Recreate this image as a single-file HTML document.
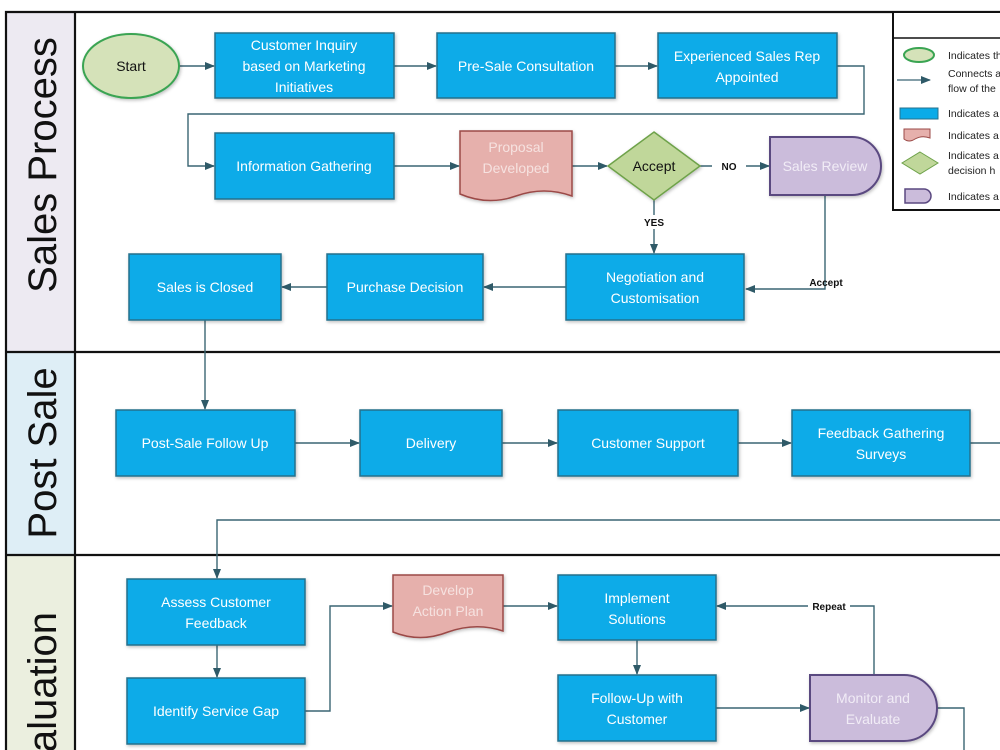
<!DOCTYPE html>
<html><head><meta charset="utf-8"><style>
html,body{margin:0;padding:0;background:#fff;width:1000px;height:750px;overflow:hidden}
svg{display:block}
text{font-family:"Liberation Sans",sans-serif}
.b{fill:#0aabe8;stroke:#26708c;stroke-width:1.5}
.t{fill:#fff;font-size:14px;text-anchor:middle}
.c{fill:none;stroke:#3a6573;stroke-width:1.4}
.lab{font-size:10px;font-weight:bold;fill:#111;text-anchor:middle}
.lg{font-size:10.5px;fill:#222}
</style></head><body>
<svg width="1000" height="750" viewBox="0 0 1000 750" xmlns="http://www.w3.org/2000/svg">
<defs>
<marker id="a" markerWidth="10" markerHeight="10" refX="9" refY="5" orient="auto" markerUnits="userSpaceOnUse" viewBox="0 0 10 10"><path d="M0,1 L10,5 L0,9 z" fill="#2f5a68"/></marker>
<filter id="s" x="-10%" y="-10%" width="125%" height="130%"><feDropShadow dx="1" dy="1.5" stdDeviation="1.5" flood-color="#000" flood-opacity="0.25"/></filter>
</defs>
<rect x="6" y="12" width="69" height="340" fill="#edeaf2"/>
<rect x="6" y="352" width="69" height="203" fill="#deeef6"/>
<rect x="6" y="555" width="69" height="195" fill="#ebefdf"/>
<path d="M6,750 V12 H1000 M75,12 V750 M6,352 H1000 M6,555 H1000" fill="none" stroke="#111" stroke-width="2.2"/>
<text transform="translate(56,165) rotate(-90)" font-size="40" text-anchor="middle" fill="#111">Sales Process</text>
<text transform="translate(56,453) rotate(-90)" font-size="40" text-anchor="middle" fill="#111">Post Sale</text>
<text transform="translate(56,612) rotate(-90)" font-size="40" text-anchor="end" fill="#111">Evaluation</text>

<g class="c" marker-end="url(#a)">
<path d="M179,66 H214"/>
<path d="M394,66 H436"/>
<path d="M615,66 H657"/>
<path d="M837,66 H864 V114 H188 V166 H214"/>
<path d="M394,166 H459"/>
<path d="M572,166 H607"/>
<path d="M700,166 H769"/>
<path d="M654,200 V253"/>
<path d="M825,195 V289 H746"/>
<path d="M566,287 H484"/>
<path d="M327,287 H282"/>
<path d="M205,320 V409"/>
<path d="M295,443 H359"/>
<path d="M502,443 H557"/>
<path d="M738,443 H791"/>
<path d="M1000,520 H217 V578"/>
<path d="M217,645 V677"/>
<path d="M305,711 H330 V606 H392"/>
<path d="M503,606 H557"/>
<path d="M637,640 V674"/>
<path d="M716,708 H809"/>
<path d="M874,675 V606 H717"/>
</g>
<path class="c" d="M970,443 H1000 M937,708 H964 V750"/>

<rect x="712" y="159" width="34" height="14" fill="#fff"/>
<text class="lab" x="729" y="170">NO</text>
<rect x="640" y="215" width="28" height="14" fill="#fff"/>
<text class="lab" x="654" y="226">YES</text>
<text class="lab" x="826" y="286">Accept</text>
<rect x="808" y="599" width="42" height="14" fill="#fff"/>
<text class="lab" x="829" y="610">Repeat</text>

<g filter="url(#s)">
<ellipse cx="131" cy="66" rx="48" ry="32" fill="#d5e2b9" stroke="#3aa452" stroke-width="2"/>
<rect class="b" x="215" y="33" width="179" height="65"/>
<rect class="b" x="437" y="33" width="178" height="65"/>
<rect class="b" x="658" y="33" width="179" height="65"/>
<rect class="b" x="215" y="133" width="179" height="66"/>
<path d="M460,131 H572 V196 Q544,186 516,196 Q488,206 460,194 Z" fill="#e6b0ac" stroke="#9b4a47" stroke-width="1.5"/>
<path d="M654,132 L700,166 L654,200 L608,166 Z" fill="#c0d79a" stroke="#6ea24a" stroke-width="1.5"/>
<path d="M770,137 H852 A29,29 0 0 1 852,195 H770 Z" fill="#cbbcdb" stroke="#5a4880" stroke-width="2"/>
<rect class="b" x="566" y="254" width="178" height="66"/>
<rect class="b" x="327" y="254" width="156" height="66"/>
<rect class="b" x="129" y="254" width="152" height="66"/>
<rect class="b" x="116" y="410" width="179" height="66"/>
<rect class="b" x="360" y="410" width="142" height="66"/>
<rect class="b" x="558" y="410" width="180" height="66"/>
<rect class="b" x="792" y="410" width="178" height="66"/>
<rect class="b" x="127" y="579" width="178" height="66"/>
<rect class="b" x="127" y="678" width="178" height="66"/>
<path d="M393,575 H503 V631 Q476,622 448,632 Q420,643 393,632 Z" fill="#e6b0ac" stroke="#9b4a47" stroke-width="1.5"/>
<rect class="b" x="558" y="575" width="158" height="65"/>
<rect class="b" x="558" y="675" width="158" height="66"/>
<path d="M810,675 H904 A33,33 0 0 1 904,741 H810 Z" fill="#cbbcdb" stroke="#5a4880" stroke-width="2"/>
</g>

<text x="131" y="71" font-size="14" text-anchor="middle" fill="#111">Start</text>
<text class="t" x="304" y="50">Customer Inquiry</text>
<text class="t" x="304" y="71">based on Marketing</text>
<text class="t" x="304" y="92">Initiatives</text>
<text class="t" x="526" y="71">Pre-Sale Consultation</text>
<text class="t" x="747" y="61">Experienced Sales Rep</text>
<text class="t" x="747" y="82">Appointed</text>
<text class="t" x="304" y="171">Information Gathering</text>
<text class="t" x="516" y="152" style="fill:#f6e2e0">Proposal</text>
<text class="t" x="516" y="173" style="fill:#f6e2e0">Developed</text>
<text x="654" y="171" font-size="14" text-anchor="middle" fill="#111">Accept</text>
<text class="t" x="825" y="171" style="fill:#f1ecf6">Sales Review</text>
<text class="t" x="655" y="282">Negotiation and</text>
<text class="t" x="655" y="303">Customisation</text>
<text class="t" x="405" y="292">Purchase Decision</text>
<text class="t" x="205" y="292">Sales is Closed</text>
<text class="t" x="205" y="448">Post-Sale Follow Up</text>
<text class="t" x="431" y="448">Delivery</text>
<text class="t" x="648" y="448">Customer Support</text>
<text class="t" x="881" y="438">Feedback Gathering</text>
<text class="t" x="881" y="459">Surveys</text>
<text class="t" x="216" y="607">Assess Customer</text>
<text class="t" x="216" y="628">Feedback</text>
<text class="t" x="216" y="716">Identify Service Gap</text>
<text class="t" x="448" y="595" style="fill:#f6e2e0">Develop</text>
<text class="t" x="448" y="616" style="fill:#f6e2e0">Action Plan</text>
<text class="t" x="637" y="603">Implement</text>
<text class="t" x="637" y="624">Solutions</text>
<text class="t" x="637" y="703">Follow-Up with</text>
<text class="t" x="637" y="724">Customer</text>
<text class="t" x="873" y="703" style="fill:#f1ecf6">Monitor and</text>
<text class="t" x="873" y="724" style="fill:#f1ecf6">Evaluate</text>

<rect x="893" y="12" width="120" height="198" fill="#fff" stroke="#111" stroke-width="2"/>
<line x1="893" y1="38" x2="1000" y2="38" stroke="#111" stroke-width="1.5"/>
<ellipse cx="919" cy="55" rx="15" ry="7" fill="#d5e2b9" stroke="#3aa452" stroke-width="2"/>
<text class="lg" x="948" y="59">Indicates the</text>
<path d="M897,80 H930" stroke="#3a6573" stroke-width="1.3" marker-end="url(#a)"/>
<text class="lg" x="948" y="77">Connects a</text>
<text class="lg" x="948" y="92">flow of the</text>
<rect x="900" y="108" width="38" height="11" fill="#0aabe8" stroke="#26708c"/>
<text class="lg" x="948" y="117">Indicates a</text>
<path d="M904,129 H930 V138 Q922,135 915,139 Q909,143 904,139 Z" fill="#e6b0ac" stroke="#9b4a47"/>
<text class="lg" x="948" y="139">Indicates a</text>
<path d="M920,152 L938,163 L920,174 L902,163 Z" fill="#c0d79a" stroke="#6ea24a"/>
<text class="lg" x="948" y="159">Indicates a</text>
<text class="lg" x="948" y="174">decision h</text>
<path d="M905,189 H924 A7,7 0 0 1 924,203 H905 Z" fill="#cbbcdb" stroke="#5a4880" stroke-width="1.5"/>
<text class="lg" x="948" y="200">Indicates a</text>
</svg>
</body></html>
